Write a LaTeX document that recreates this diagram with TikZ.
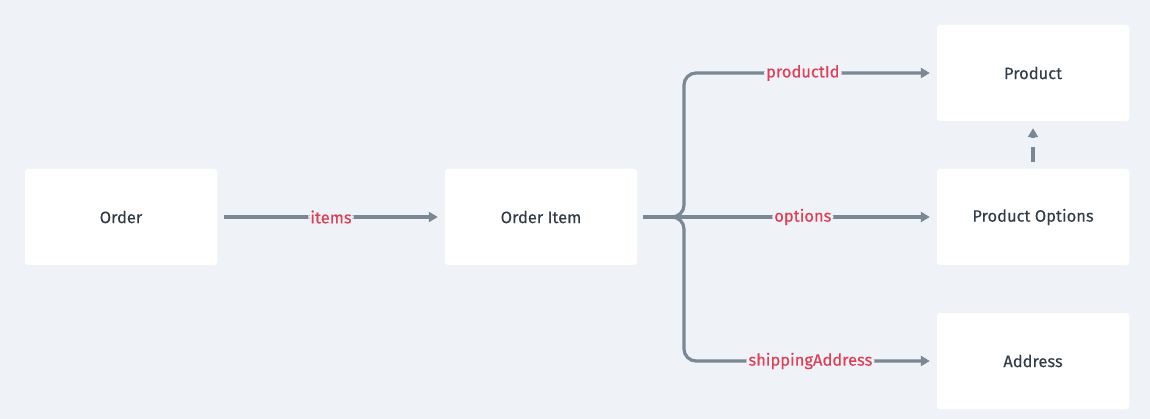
\documentclass[tikz,border=0pt]{standalone}
\usepackage{fontspec}
\setmainfont{Fira Sans}[FakeBold=0.1]
\newfontfamily\lblfont{Fira Sans}[FakeBold=0.4]
\usetikzlibrary{arrows.meta,positioning}
\definecolor{bgC}{HTML}{EFF3F7}
\definecolor{lineC}{HTML}{7A8794}
\definecolor{labelC}{HTML}{DE3F57}
\definecolor{textC}{HTML}{333D47}
\tikzset{
  entity/.style={fill=white,rounded corners=3pt,minimum width=192pt,
    minimum height=96pt,inner sep=0pt,text=textC,font=\fontsize{16.5}{19}\selectfont},
  link/.style={lineC,line width=3.2pt,-{Triangle[length=9pt,width=10pt]},
    shorten >=7pt,rounded corners=12pt},
  lbl/.style={fill=bgC,text=labelC,inner sep=2pt,pos=0.47,
    font=\lblfont\fontsize{16.5}{19}\selectfont}
}

\begin{document}
\begin{tikzpicture}[x=1pt,y=-1pt]
  % Background
  \fill[bgC] (0,0) rectangle (1150,419);
  \useasboundingbox (0,0) rectangle (1150,419);

  % Boxes
  \node[entity] (order)    at (121,217)  {Order};
  \node[entity] (item)     at (541,217)  {Order Item};
  \node[entity] (product)  at (1033,73)  {Product};
  \node[entity] (options)  at (1033,217) {Product Options};
  \node[entity] (address)  at (1033,361) {Address};

  % Branch point of the brace
  \coordinate (start) at ([xshift=6pt]item.east);
  \coordinate (fork) at (684,217);

  % Connectors
  \draw[link,shorten <=7pt] (order) -- node[lbl,pos=0.5] {items} (item);
  \draw[link] (start) -- (fork) -- (fork |- product.west)
    -- node[lbl] {productId} (product.west);
  \draw[link] (start) -- (fork)
    -- node[lbl] {options} (options.west);
  \draw[link] (start) -- (fork) -- (fork |- address.west)
    -- node[lbl,pos=0.5] {shippingAddress} (address.west);

  % Options refer to product
  \draw[link,dash pattern=on 15pt off 10pt,shorten <=7pt] (options) -- (product);
\end{tikzpicture}
\end{document}
